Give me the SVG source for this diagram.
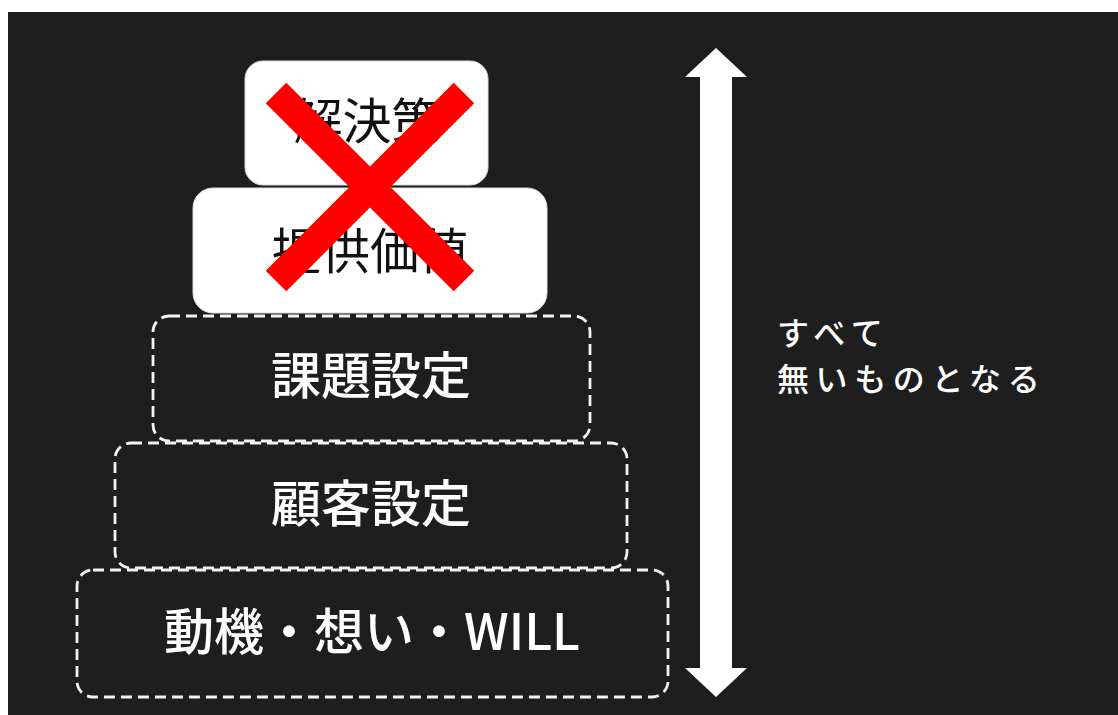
<svg xmlns="http://www.w3.org/2000/svg" width="1118" height="715" viewBox="0 0 1118 715">
  <style>
    .lbl { font-family: "Noto Sans CJK JP", "Noto Sans", sans-serif; text-anchor: middle; dominant-baseline: central; }
    .dark { fill: #111111; font-size: 49px; font-weight: 400; }
    .light { fill: #ffffff; font-size: 50px; font-weight: 500; }
    .solid { fill: #ffffff; stroke: #dddddd; stroke-width: 1; }
    .dashed { fill: none; stroke: #f2f2f2; stroke-width: 2.8; stroke-dasharray: 11 6; }
    .note { font-family: "Noto Sans CJK JP", "Noto Sans", sans-serif; fill: #ffffff; font-size: 32px; font-weight: 500; letter-spacing: 6.6px; }
  </style>
  <rect x="0" y="0" width="1118" height="715" fill="#ffffff"/>
  <rect x="8" y="12" width="1110" height="703" fill="#1e1e1e"/>

  <g id="node-will">
    <rect class="dashed" x="77" y="570" width="591" height="127" rx="16"/>
    <text class="lbl light" x="372" y="628">動機・想い・WILL</text>
  </g>
  <g id="node-customer">
    <rect class="dashed" x="115" y="443" width="512" height="125" rx="16"/>
    <text class="lbl light" x="371" y="500">顧客設定</text>
  </g>
  <g id="node-problem">
    <rect class="dashed" x="153" y="316" width="437" height="125" rx="16"/>
    <text class="lbl light" x="371" y="372">課題設定</text>
  </g>
  <g id="node-value">
    <rect class="solid" x="193" y="188" width="354" height="125" rx="20"/>
    <text class="lbl dark" x="370" y="247">提供価値</text>
  </g>
  <g id="node-solution">
    <rect class="solid" x="245" y="61" width="243" height="124" rx="18"/>
    <text class="lbl dark" x="367" y="117">解決策</text>
  </g>
  <g id="cross">
    <line x1="276" y1="93" x2="464" y2="281" stroke="#ff0000" stroke-width="29"/>
    <line x1="464" y1="93" x2="276" y2="281" stroke="#ff0000" stroke-width="29"/>
  </g>

  <g id="connectors">
    <polygon points="716,48 747,77 732,77 732,668 747,668 716,697 685,668 700,668 700,77 685,77" fill="#ffffff"/>
  </g>

  <g id="note">
    <text class="note" x="777" y="345">すべて</text>
    <text class="note" x="777" y="391">無いものとなる</text>
  </g>
</svg>
